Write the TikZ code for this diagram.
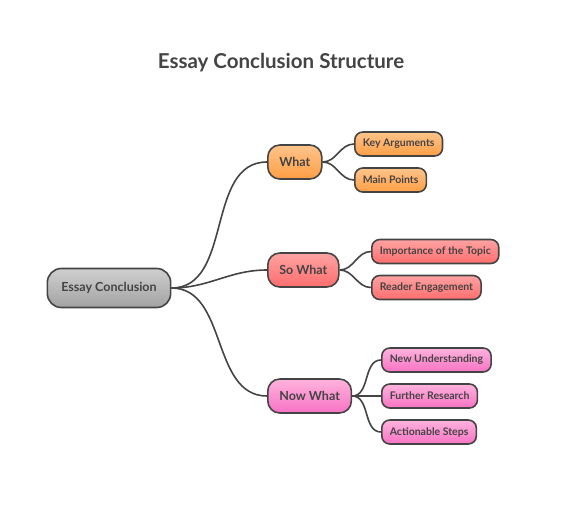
\documentclass[tikz,border=0pt]{standalone}
\usepackage{fontspec}
\setmainfont{Lato}
\usepackage{tikz}
\definecolor{ink}{HTML}{444444}
\definecolor{greytop}{HTML}{CFCFCF}
\definecolor{greybot}{HTML}{A2A2A2}
\definecolor{orangetop}{HTML}{FFC48A}
\definecolor{orangebot}{HTML}{FF9E45}
\definecolor{redtop}{HTML}{FFA3A3}
\definecolor{redbot}{HTML}{FF6D6D}
\definecolor{pinktop}{HTML}{FFB3DD}
\definecolor{pinkbot}{HTML}{F772C4}

\begin{document}
\begin{tikzpicture}[x=1pt,y=-1pt,
    box/.style={draw=ink,line width=1.6pt,text=ink,font=\bfseries},
    rootbox/.style={box,rounded corners=14pt,minimum height=39pt,inner xsep=14pt,
      top color=greytop,bottom color=greybot,font=\fontsize{12.5}{14}\bfseries},
    branchbox/.style={box,rounded corners=12pt,minimum height=34pt,inner xsep=11.5pt,
      anchor=west,font=\fontsize{12.5}{14}\bfseries},
    leafbox/.style={box,rounded corners=8pt,minimum height=24pt,inner xsep=8pt,
      anchor=west,font=\fontsize{10.5}{12}\bfseries},
    orangebox/.style={top color=orangetop,bottom color=orangebot},
    redbox/.style={top color=redtop,bottom color=redbot},
    pinkbox/.style={top color=pinktop,bottom color=pinkbot},
    link/.style={draw=ink,line width=1.6pt}]
    \useasboundingbox (0,0) rectangle (562,528);
    \node[text=ink,font=\fontsize{20.5}{24}\bfseries] (title) at (281,62.5) {Essay Conclusion Structure};

    \node[rootbox] (essay) at (109,288) {Essay Conclusion};

    \node[branchbox,orangebox] (what) at (267,162) {What};
    \node[branchbox,redbox] (sowhat) at (267,270) {So What};
    \node[branchbox,pinkbox] (nowwhat) at (267,396) {Now What};

    \node[leafbox,orangebox] (keyargs) at (354,144) {Key Arguments};
    \node[leafbox,orangebox] (mainpts) at (354,180) {Main Points};
    \node[leafbox,redbox] (importance) at (371,251.5) {Importance of the Topic};
    \node[leafbox,redbox] (engage) at (371,287.5) {Reader Engagement};
    \node[leafbox,pinkbox] (newund) at (381,360) {New Understanding};
    \node[leafbox,pinkbox] (further) at (381,396) {Further Research};
    \node[leafbox,pinkbox] (steps) at (381,432) {Actionable Steps};

    \foreach \b in {what,sowhat,nowwhat}
      \draw[link] (essay.east) to[out=0,in=180] (\b.west);
    \foreach \l in {keyargs,mainpts}
      \draw[link] (what.east) to[out=0,in=180] (\l.west);
    \foreach \l in {importance,engage}
      \draw[link] (sowhat.east) to[out=0,in=180] (\l.west);
    \foreach \l in {newund,further,steps}
      \draw[link] (nowwhat.east) to[out=0,in=180] (\l.west);
\end{tikzpicture}
\end{document}
